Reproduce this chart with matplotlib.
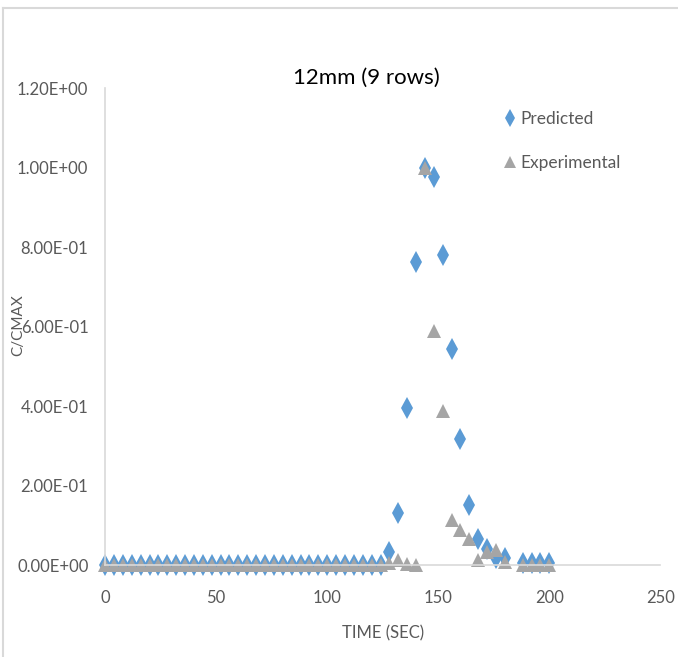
import matplotlib
matplotlib.use('Agg')
import matplotlib.pyplot as plt
from matplotlib.lines import Line2D
from matplotlib.ticker import FormatStrFormatter

plt.rcParams['font.family'] = ['Lato', 'DejaVu Sans']

# data
time_pred = [0, 4, 8, 12, 16, 20, 24, 28, 32, 36, 40, 44, 48, 52, 56, 60,
             64, 68, 72, 76, 80, 84, 88, 92, 96, 100, 104, 108, 112, 116, 120, 124,
             128, 132, 136, 140, 144, 148, 152, 156, 160, 164, 168, 172, 176, 180,
             188, 192, 196, 200]
predicted = [0] * 32 + [0.033, 0.13, 0.395, 0.763, 1.0, 0.975, 0.78, 0.544, 0.317,
                        0.151, 0.065, 0.04, 0.017, 0.017, 0.005, 0.005, 0.005, 0.005]

time_exp = time_pred
experimental = [0] * 32 + [0.005, 0.013, 0.002, 0.0, 1.0, 0.59, 0.388, 0.113, 0.088,
                           0.065, 0.013, 0.032, 0.038, 0.008, 0, 0, 0, 0]

fig = plt.figure(figsize=(6.78, 6.57), dpi=100)
ax = fig.add_axes([0.155, 0.140, 0.819, 0.726])

ax.plot(time_pred, predicted, 'd', color='#5B9BD5', markersize=11,
        markeredgewidth=0, label='Predicted', clip_on=False)
ax.plot(time_exp, experimental, '^', color='#A5A5A5', markersize=10,
        markeredgewidth=0, label='Experimental', clip_on=False)

ax.set_xlim(0, 250)
ax.set_ylim(0, 1.2)
ax.set_xticks([0, 50, 100, 150, 200, 250])
ax.set_yticks([0, 0.2, 0.4, 0.6, 0.8, 1.0, 1.2])
ax.yaxis.set_major_formatter(FormatStrFormatter('%.2E'))
ax.tick_params(length=0, labelsize=12, labelcolor='#595959')
ax.tick_params(axis='y', pad=12)
ax.tick_params(axis='x', pad=18)
for s in ['top', 'right']:
    ax.spines[s].set_visible(False)
for s in ['left', 'bottom']:
    ax.spines[s].set_color('#D9D9D9')
    ax.spines[s].set_linewidth(1.2)

ax.set_title('12mm (9 rows)', fontsize=16, color='black', pad=2, x=0.47)
ax.set_xlabel('TIME (SEC)', fontsize=12, color='#595959', labelpad=14)
fig.text(0.027, 0.505, 'C/CMAX', rotation=90, fontsize=11, color='#595959',
         ha='center', va='center')

ax.legend(loc='upper left', bbox_to_anchor=(0.685, 0.985), frameon=False,
          fontsize=12.5, labelcolor='#595959', handletextpad=0.1,
          labelspacing=1.6, markerscale=0.8, handlelength=1.0)

fig.add_artist(Line2D([0.004, 0.004], [0, 0.988], color='#D9D9D9', lw=1.5))
fig.add_artist(Line2D([0.004, 1], [0.988, 0.988], color='#D9D9D9', lw=1.5))

plt.savefig('out.png', dpi=100)
